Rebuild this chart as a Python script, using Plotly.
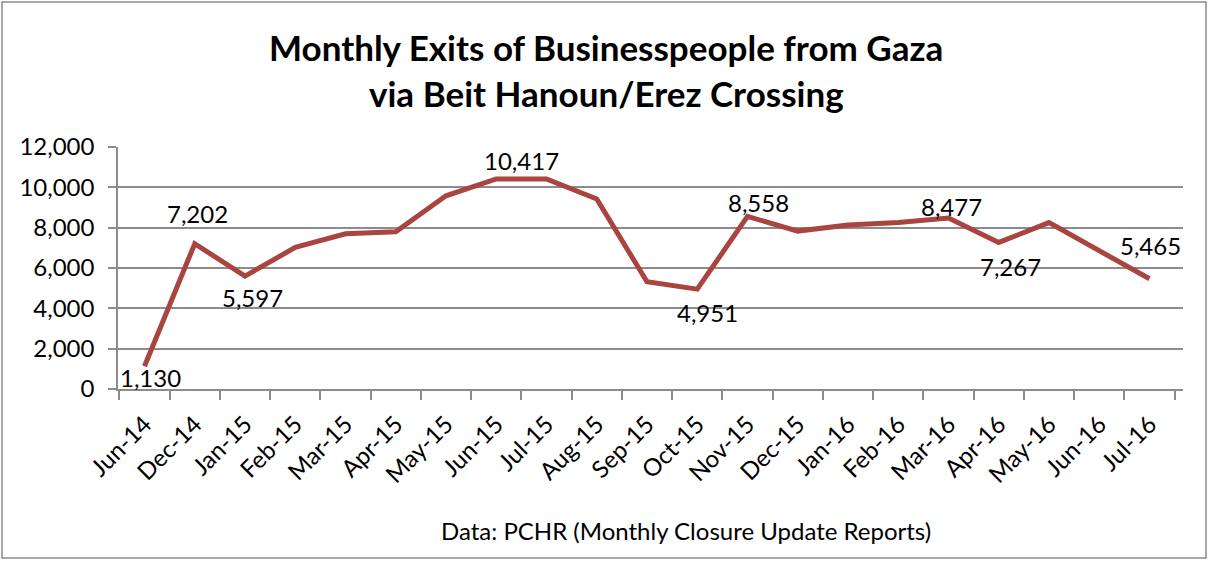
import plotly.graph_objects as go

months = ["Jun-14", "Dec-14", "Jan-15", "Feb-15", "Mar-15", "Apr-15", "May-15",
          "Jun-15", "Jul-15", "Aug-15", "Sep-15", "Oct-15", "Nov-15", "Dec-15",
          "Jan-16", "Feb-16", "Mar-16", "Apr-16", "May-16", "Jun-16", "Jul-16"]
exits = [1130, 7202, 5597, 7020, 7700, 7800, 9580,
         10417, 10417, 9420, 5320, 4951, 8558, 7830,
         8130, 8260, 8477, 7267, 8250, 6870, 5465]
# months that carry a value label, with pixel offsets (dx, dy) of the label
labelled = {"Jun-14": (6, -11), "Dec-14": (3, 30), "Jan-15": (7, -21),
            "Jun-15": (25, 18), "Oct-15": (10, -23), "Nov-15": (11, 14),
            "Mar-16": (3, 12), "Apr-16": (12, -24), "Jul-16": (1, 33)}
title_lines = ["Monthly Exits of Businesspeople from Gaza", "via Beit Hanoun/Erez Crossing"]
source = "Data: PCHR (Monthly Closure Update Reports)"

FONT = "Lato, Open Sans, sans-serif"
LINE = "#A9443F"
GRID = "#8C8C8C"

L, R, T, B = 118, 29, 147, 172
W, H = 1212, 561
PW, PH = W - L - R, H - T - B


def px_x(x):
    return (x - L) / PW


def px_y(y):
    return (H - B - y) / PH


fig = go.Figure()
fig.add_trace(go.Scatter(
    x=months, y=exits, mode="lines",
    line=dict(color=LINE, width=5),
    showlegend=False, hoverinfo="x+y",
))

annotations = []
for m, v in zip(months, exits):
    if m in labelled:
        dx, dy = labelled[m]
        annotations.append(dict(x=m, y=v, xref="x", yref="y", text=f"{v:,}", showarrow=False,
                                xshift=dx, yshift=dy, xanchor="center", yanchor="middle",
                                font=dict(family=FONT, size=24, color="#000000")))
for line_text, yc in zip(title_lines, [47, 93]):
    annotations.append(dict(text=f"<b>{line_text}</b>", xref="paper", yref="paper",
                            x=px_x(606), y=px_y(yc), xanchor="center", yanchor="middle",
                            showarrow=False, font=dict(family=FONT, size=35, color="#000000")))
annotations.append(dict(text=source, xref="paper", yref="paper",
                        x=px_x(686), y=px_y(530), xanchor="center", yanchor="middle",
                        showarrow=False, font=dict(family=FONT, size=24, color="#000000")))

fig.update_layout(
    width=W, height=H,
    margin=dict(l=L, r=R, t=T, b=B, autoexpand=False),
    paper_bgcolor="white", plot_bgcolor="white",
    xaxis=dict(type="category", showgrid=False, showline=True, linecolor=GRID, linewidth=1.5,
               ticks="outside", tickson="boundaries", ticklen=9, tickcolor=GRID, tickwidth=1.5,
               tickangle=-45, automargin=False, ticklabelstandoff=10,
               tickfont=dict(family=FONT, size=24, color="#000000")),
    yaxis=dict(range=[0, 12000], dtick=2000, tickformat=",", showgrid=True, gridcolor=GRID,
               gridwidth=1.5, showline=True, linecolor=GRID, linewidth=1.5, ticks="outside",
               ticklen=8, tickcolor=GRID, tickwidth=1.5, zeroline=False, automargin=False,
               ticklabelstandoff=9,
               tickfont=dict(family=FONT, size=24, color="#000000")),
    shapes=[dict(type="rect", xref="paper", yref="paper",
                 x0=px_x(2), x1=px_x(1206), y0=px_y(558), y1=px_y(2),
                 line=dict(color=GRID, width=1.5), fillcolor="rgba(0,0,0,0)")],
    annotations=annotations,
)

fig.write_html("out.html", config={"displayModeBar": False},
               post_script="document.body.style.margin='0px';")
